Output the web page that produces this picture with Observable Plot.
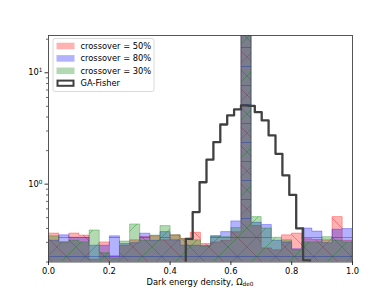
<!DOCTYPE html>
<html><head><meta charset="utf-8">
<script src="https://cdn.jsdelivr.net/npm/d3@7"></script>
<script src="https://cdn.jsdelivr.net/npm/@observablehq/plot@0.6"></script>
<style>
body{margin:0;background:#fff;}
#chart svg{display:block;}
</style>
</head><body><div id="chart"></div>
<script>
// ---- data ----
const binStart = 0.002;
const binWidth = 0.0333;
const red   = [0.36,0.30,0.36,0.345,0.21,0.30,0.225,0.28,0.313,0.335,0.34,0.313,0.347,0.323,0.366,0.29,0.30,0.31,0.37,23.5,0.42,0.265,0.255,0.347,0.36,0.32,0.315,0.313,0.506,0.31];
const blue  = [0.31,0.347,0.33,0.33,0.28,0.28,0.34,0.29,0.295,0.359,0.31,0.371,0.313,0.28,0.28,0.28,0.34,0.371,0.463,24.5,0.45,0.43,0.31,0.30,0.26,0.40,0.375,0.295,0.39,0.395];
const green = [0.34,0.30,0.31,0.30,0.384,0.24,0.215,0.305,0.435,0.31,0.345,0.42,0.347,0.32,0.313,0.275,0.34,0.334,0.403,22.8,0.506,0.40,0.33,0.313,0.255,0.30,0.30,0.334,0.31,0.30];
const gaStart = 0.4516;
const gaWidth = 0.0227;
const gaFisher = [0.323,0.561,1.04,1.66,2.38,3.43,4.14,4.69,5.09,5.05,4.43,3.73,2.74,1.87,1.20,0.80,0.40,0.207];
const seriesNames = ["crossover = 50%","crossover = 80%","crossover = 30%"];
const gaName = "GA-Fisher";
const seriesColors = ["#ff0000","#0000ff","#008000"];
const hatchKinds = ["back","horiz","fwd"];
const xTicks = [0,0.2,0.4,0.6,0.8,1.0];
const xTickLabels = ["0.0","0.2","0.4","0.6","0.8","1.0"];
const yMajorTicks = [1,10];
const yTickBase = ["10","10"];
const yTickExp = ["0","1"];
const yMinorTicks = [0.2,0.3,0.4,0.5,0.6,0.7,0.8,0.9,2,3,4,5,6,7,8,9,20];
const yDomain = [0.2,21.6];
const xLabelMain = "Dark energy density, \u03a9";
const xLabelSub = "de0";
const FLOOR = 0.05;

function stepPoints(start, width, vals){
  const pts = vals.map((v,i)=>({x:start+i*width, y:v}));
  pts.push({x:start+vals.length*width, y:vals[vals.length-1]});
  return pts;
}
const seriesVals = [red, blue, green];
const marks = [];
seriesVals.forEach((vals, k) => {
  const pts = stepPoints(binStart, binWidth, vals);
  marks.push(Plot.areaY(pts, {x:"x", y1:FLOOR, y2:"y", curve:"step-after", fill:seriesColors[k], fillOpacity:0.3, stroke:seriesColors[k], strokeOpacity:0.3, strokeWidth:1, clip:true}));
  marks.push(Plot.areaY(pts, {x:"x", y1:FLOOR, y2:"y", curve:"step-after", fill:`url(#hatch-${k})`, clip:true}));
});
const gaPts = [{x:gaStart, y:FLOOR}, ...stepPoints(gaStart, gaWidth, gaFisher), {x:gaStart+gaFisher.length*gaWidth, y:FLOOR}];
marks.push(Plot.line(gaPts, {x:"x", y:"y", curve:"step-after", stroke:"#404040", strokeWidth:2.3, clip:true}));
marks.push(Plot.frame({stroke:"#444", strokeWidth:0.9}));
marks.push(Plot.axisX(xTicks, {tickSize:3.5, tickPadding:3, tickFormat:(d)=>xTickLabels[xTicks.indexOf(d)], label:null, strokeWidth:0.8}));
marks.push(Plot.axisY(yMajorTicks, {tickSize:3.5, tickPadding:2.5, tickFormat:(d)=>yTickBase[yMajorTicks.indexOf(d)] + yTickExp[yMajorTicks.indexOf(d)], label:null, strokeWidth:0.8}));
marks.push(Plot.axisY(yMinorTicks, {tickSize:2, tickFormat:()=>"", label:null, strokeWidth:0.6}));

const svg = Plot.plot({
  width:392, height:294,
  marginLeft:48, marginRight:40, marginTop:35, marginBottom:32.5,
  style:{fontFamily:"DejaVu Sans", fontSize:"8.3px", color:"#000", background:"#fff"},
  x:{domain:[0,1], label:null},
  y:{type:"log", domain:yDomain, label:null},
  marks
});

// hatch patterns
const S = 19;
const root = d3.select(svg);
const defs = root.insert("defs", ":first-child");
hatchKinds.forEach((kind,k)=>{
  const p = defs.append("pattern").attr("id",`hatch-${k}`).attr("patternUnits","userSpaceOnUse").attr("width",S).attr("height",S);
  let d;
  if (kind==="back") d = `M0,0L${S},${S}M-1,${S-1}L1,${S+1}M${S-1},-1L${S+1},1`;
  else if (kind==="fwd") d = `M0,${S}L${S},0M-1,1L1,-1M${S-1},${S+1}L${S+1},${S-1}`;
  else d = `M0,${S/2}L${S},${S/2}`;
  p.append("path").attr("d",d).attr("stroke",seriesColors[k]).attr("stroke-opacity",0.35).attr("stroke-width",1).attr("fill","none");
});

// superscript y tick labels
root.selectAll('g[aria-label="y-axis tick label"] text').each(function(){
  const el = d3.select(this);
  const txt = el.text();
  const i = yMajorTicks.findIndex((v,j)=>yTickBase[j]+yTickExp[j]===txt);
  if (i < 0) return;
  el.text(null);
  el.append("tspan").text(yTickBase[i]);
  el.append("tspan").attr("font-size","5.8px").attr("dy","-3.2").text(yTickExp[i]);
});

// x label with subscript
const t = root.append("text").attr("x", (48 + 392-40)/2).attr("y", 284.5).attr("text-anchor","middle")
  .attr("font-family","DejaVu Sans").attr("font-size","8.3px").attr("fill","#000");
t.append("tspan").text(xLabelMain);
t.append("tspan").attr("font-size","5.8px").attr("dy","1.6").text(xLabelSub);

// legend
const lg = root.append("g").attr("font-family","DejaVu Sans").attr("font-size","8.3px").attr("text-anchor","start");
lg.append("rect").attr("x",53).attr("y",38.5).attr("width",101).attr("height",53).attr("rx",2)
  .attr("fill","#fff").attr("fill-opacity",0.8).attr("stroke","#d0d0d0").attr("stroke-width",0.8);
const rows = [46, 58.4, 70.8, 83.2];
seriesNames.forEach((name,k)=>{
  lg.append("rect").attr("x",56.5).attr("y",rows[k]-3.3).attr("width",18).attr("height",6.6)
    .attr("fill",seriesColors[k]).attr("fill-opacity",0.3);
  lg.append("text").attr("x",80.5).attr("y",rows[k]).attr("dy","0.35em").attr("fill","#000").attr("text-anchor","start").text(name);
});
lg.append("rect").attr("x",57.5).attr("y",rows[3]-2.6).attr("width",16).attr("height",5.2)
  .attr("fill","#fff").attr("stroke","#404040").attr("stroke-width",2);
lg.append("text").attr("x",80.5).attr("y",rows[3]).attr("dy","0.35em").attr("fill","#000").attr("text-anchor","start").text(gaName);

document.getElementById("chart").appendChild(svg);
</script>
</body></html>
